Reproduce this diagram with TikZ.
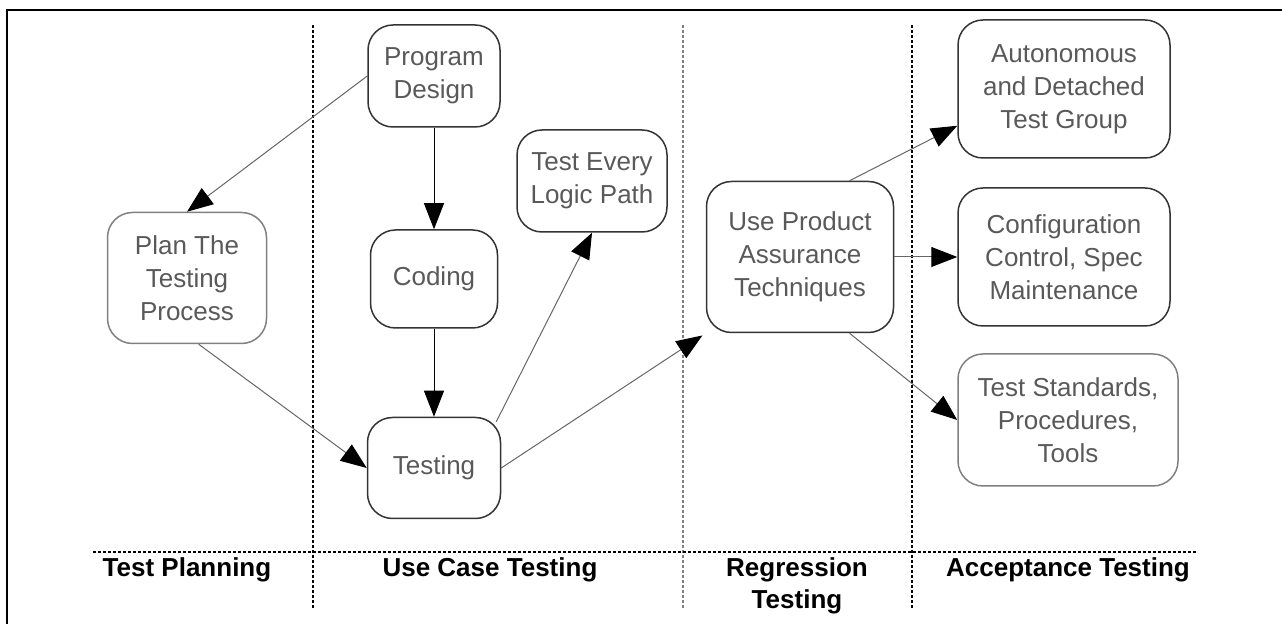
\documentclass[tikz,border=0pt]{standalone}
\usepackage{fontspec}
\setmainfont{Liberation Sans}
\usetikzlibrary{arrows.meta,positioning}
\tikzset{%
	block/.style   = {draw=black!80, line width=0.75pt, rectangle, rounded corners=12.5pt, align=center, text=black!65, font=\fontsize{13}{16.5}\selectfont, inner sep=2pt},
	pale/.style    = {draw=black!50}, % lighter outline
	phase/.style   = {align=center, font=\fontsize{13}{16}\selectfont\bfseries}, % column title
	arrow/.style   = {draw=black!60, line width=0.5pt, -{Triangle[length=13pt,width=10pt,color=black]}},
	divider/.style = {line width=0.7pt, dash pattern=on 1.5pt off 1pt},
}

\begin{document}
\begin{tikzpicture}[x=0.5pt,y=-0.5pt,node distance=100pt]
	\useasboundingbox (0,0) rectangle (1282,624);
	% frame and column dividers
	\draw[line width=1pt] (7,624) -- (7,10) -- (1282,10);
	\draw[divider] (313,25) -- (313,608);
	\draw[divider,black!50] (683,25) -- (683,608);
	\draw[divider] (912,25) -- (912,608);
	\draw[divider] (93,552) -- (1196,552);

	\node [block,pale,minimum width=79.5pt,minimum height=65.5pt] (plan) at (187,278) {Plan The\\Testing\\Process};
	\node [block,minimum width=66pt,minimum height=51pt] (pdesign) at (434,76) {Program\\Design};
	\node [block,minimum width=63.5pt,minimum height=49pt] (coding) [below of=pdesign,node distance=101.5pt] {Coding};
	\node [block,minimum width=66.5pt,minimum height=50.5pt] (testing) [below of=coding,node distance=94.5pt] {Testing};
	\node [block,minimum width=75pt,minimum height=51pt] (logic) at (592,181) {Test Every\\Logic Path};
	\node [block,minimum width=93.5pt,minimum height=75.5pt] (useprod) at (800,257) {Use Product\\Assurance\\Techniques};
	\node [block,minimum width=106pt,minimum height=69pt] (config) [right of=useprod,node distance=132pt] {Configuration\\Control, Spec\\Maintenance};
	\node [block,minimum width=106pt,minimum height=69pt] (autonomous) [above of=config,node distance=84pt] {Autonomous\\and Detached\\Test Group};
	\node [block,pale,minimum width=110pt,minimum height=66pt] (teststd) at (1068,420) {Test Standards,\\Procedures,\\Tools};

	% column titles
	\node [phase] (tplan) at (187,570) {Test Planning};
	\node [phase] (tcase) at (490,570) {Use Case Testing};
	\node [phase] (treg) at (797,586) {Regression\\Testing};
	\node [phase] (tacc) at (1068,570) {Acceptance Testing};

	\draw[arrow] (pdesign.west) -- (plan.north);
	\draw[arrow] (plan.-80) -- (testing.west);
	\draw[arrow,draw=black] (pdesign) -- (coding);
	\draw[arrow,draw=black] (coding) -- (testing);
	\draw[arrow] ([xshift=-2.5pt,yshift=-2.5pt]testing.north east) -- (logic.south);
	\draw[arrow,shorten >=2pt] (testing.east) -- (useprod.south west);
	\draw[arrow] (useprod.57) -- (autonomous.199);
	\draw[arrow] (useprod.east) -- (config.west);
	\draw[arrow] (useprod.-57) -- (teststd.west);
\end{tikzpicture}
\end{document}
